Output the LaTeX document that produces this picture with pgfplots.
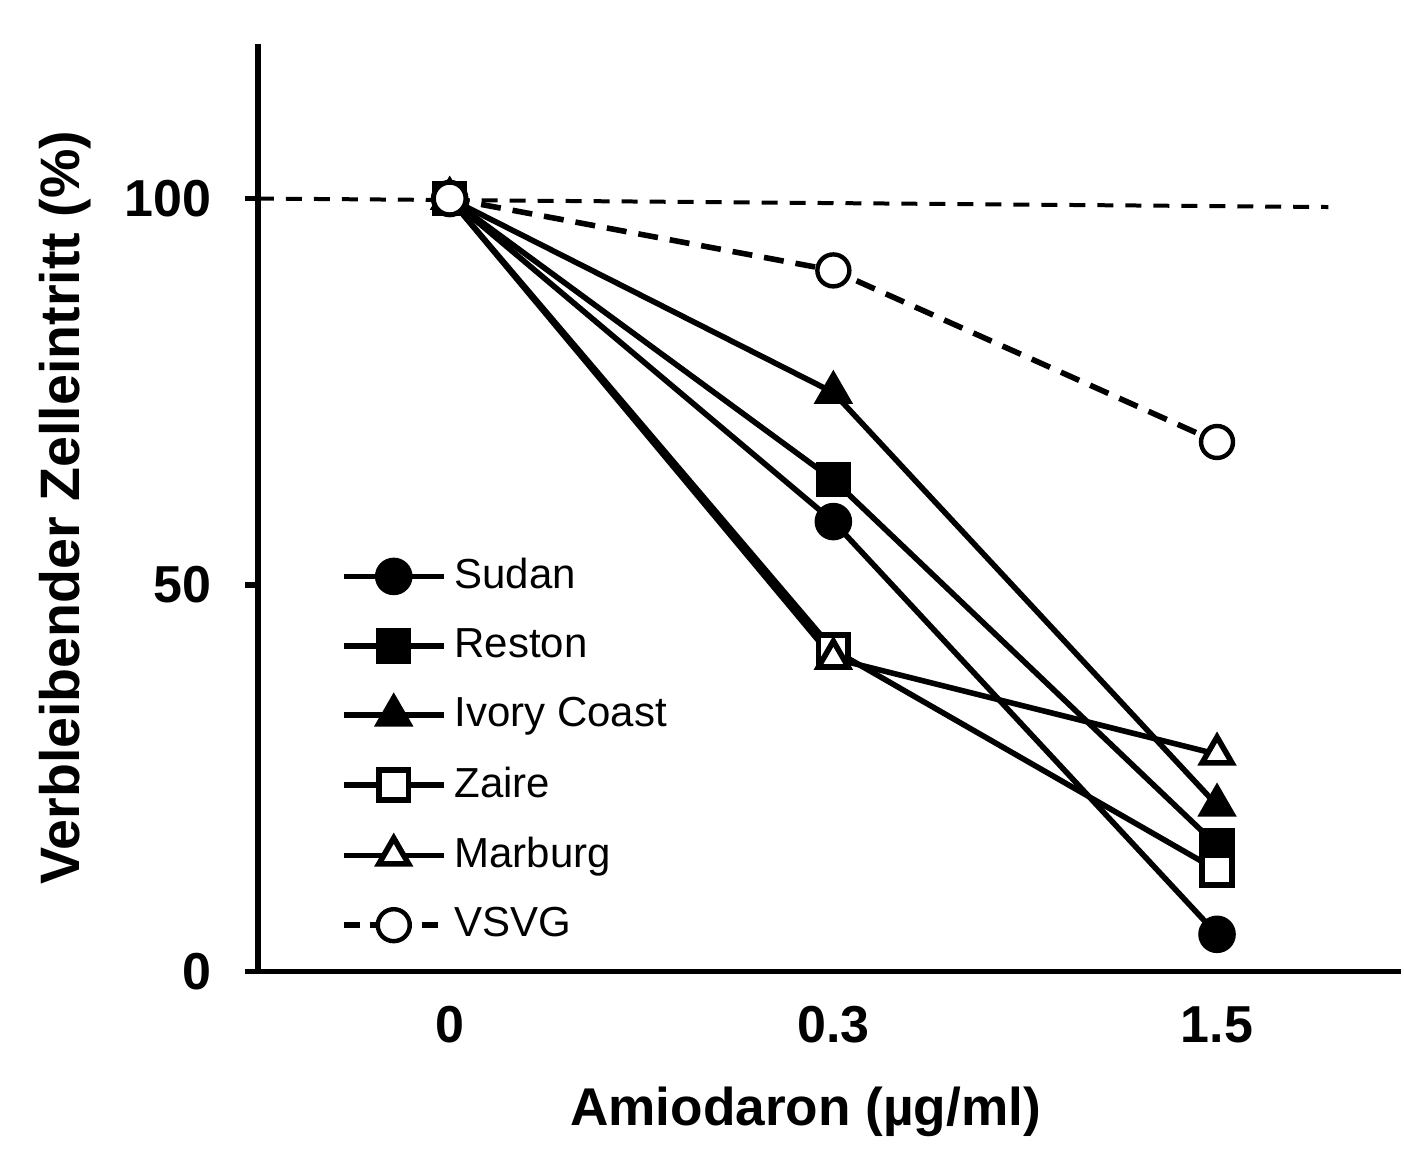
\documentclass[border=0pt]{standalone}
\usepackage{pgfplots}
\pgfplotsset{compat=1.18}
\usepackage{fontspec}
\setmainfont{Liberation Sans}
\begin{document}
\begin{tikzpicture}
\begin{axis}[
  scale only axis,
  width=286pt, height=232pt,
  xmin=-0.5, xmax=2.48,
  ymin=0, ymax=120,
  axis x line=bottom, axis y line=left,
  axis line style={line width=1.4pt,-},
  xtick={0,1,2}, xticklabels={0,0.3,1.5},
  ytick={0,50,100},
  tick align=outside,
  major tick length=3.2pt,
  x tick style={draw=none},
  y tick style={line width=1.4pt, black},
  ticklabel style={font=\fontsize{13}{15}\selectfont\bfseries},
  /pgf/number format/assume math mode=true,
  xticklabel style={yshift=-2pt},
  yticklabel style={xshift=-5pt},
  xlabel={\fontsize{13.3}{15}\selectfont\bfseries Amiodaron (µg/ml)},
  ylabel={\fontsize{13.9}{15}\selectfont\bfseries Verbleibender Zelleintritt (\%)},
  xlabel style={yshift=-4pt, xshift=-6pt},
  ylabel style={yshift=1.5pt},
  clip=false,
  every axis plot/.append style={line width=1.4pt, black, mark size=4pt},
  legend style={draw=none, fill=none, at={(0.072,0.455)}, anchor=north west,
    font=\fontsize{10.5}{12.6}\selectfont, row sep=4.5pt, inner sep=0pt},
  legend cell align=left,
  legend image code/.code={\draw[mark repeat=2,mark phase=2] plot coordinates {(0pt,0pt)(12.5pt,0pt)(25pt,0pt)};},
]
\addplot[forget plot, line width=1pt, dash pattern=on 4pt off 3pt, mark=none] coordinates {(-0.5,100) (2.29,98.9)};
\addplot[mark=*, mark options={fill=black}] coordinates {(0,100) (1,58.2) (2,4.8)};
\addlegendentry{Sudan}
\addplot[mark=square*, mark options={fill=black, mark size=3.7pt}] coordinates {(0,100) (1,63.6) (2,16.3)};
\addlegendentry{Reston}
\addplot[mark=triangle*, mark options={fill=black, mark size=4.3pt}] coordinates {(0,100) (1,74.9) (2,21.5)};
\addlegendentry{Ivory Coast}
\addplot[mark=square*, mark options={fill=white, mark size=3.7pt}] coordinates {(0,100) (1,41.6) (2,13.1)};
\addlegendentry{Zaire}
\addplot[mark=triangle*, mark options={fill=white, mark size=4.3pt}] coordinates {(0,100) (1,40.5) (2,28.1)};
\addlegendentry{Marburg}
\addplot[mark=*, dash pattern=on 5pt off 3pt, mark options={fill=white, solid, line width=1.1pt},
  legend image code/.code={\draw[mark repeat=2,mark phase=2, dash pattern=on 4pt off 2.5pt] plot coordinates {(0pt,0pt)(12.5pt,0pt)(25pt,0pt)};}]
  coordinates {(0,100) (1,90.7) (2,68.5)};
\addlegendentry{VSVG}
\end{axis}
\path (current axis.north west) ++(0,11pt);
\path (current axis.south west) ++(-64.5pt,0);
\end{tikzpicture}
\end{document}
